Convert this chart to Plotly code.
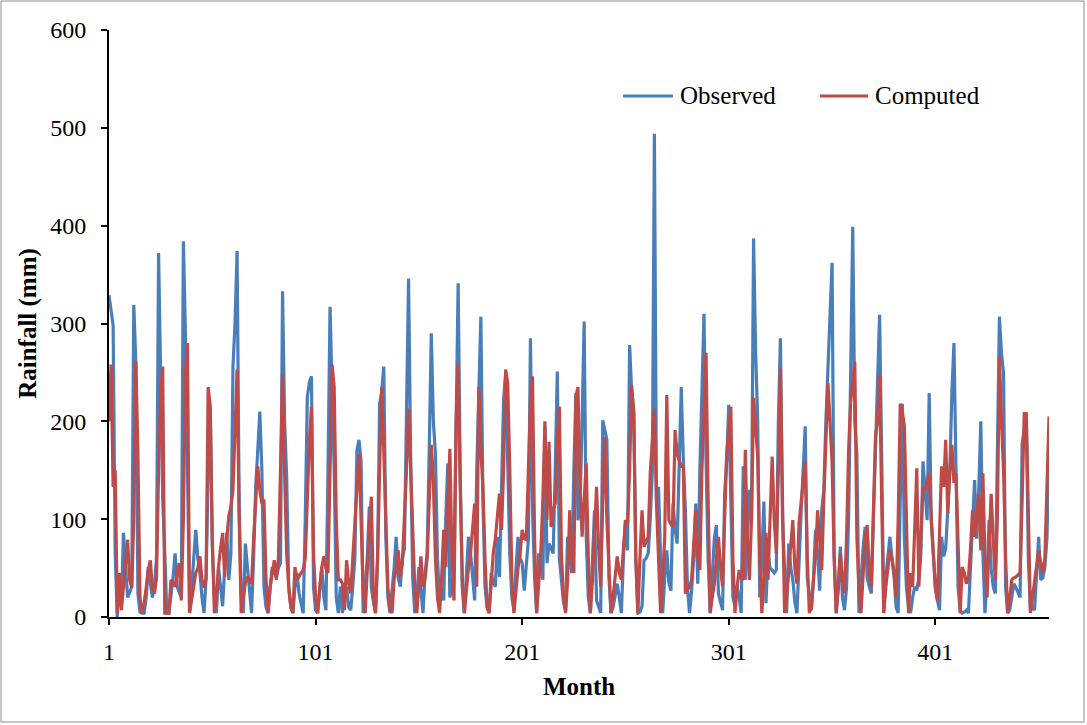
import plotly.graph_objects as go

# Monthly rainfall (mm), one row per year, 38 years
observed = [
    329, 310, 298, 65, 0, 40, 10, 86, 45, 20, 25, 31,
    319, 259, 24, 5, 4, 4, 20, 51, 35, 20, 31, 60,
    372, 256, 120, 65, 4, 4, 20, 40, 65, 31, 25, 20,
    384, 290, 150, 4, 30, 60, 89, 60, 45, 20, 4, 40,
    150, 212, 72, 20, 4, 51, 30, 11, 50, 86, 38, 65,
    256, 300, 374, 116, 20, 4, 75, 50, 31, 4, 60, 133,
    170, 210, 150, 31, 10, 4, 30, 51, 45, 41, 50, 55,
    333, 200, 143, 31, 10, 4, 30, 45, 24, 15, 4, 100,
    225, 240, 246, 30, 7, 4, 30, 51, 20, 7, 150, 317,
    230, 150, 20, 4, 31, 4, 20, 31, 10, 7, 31, 60,
    170, 181, 160, 4, 30, 60, 113, 30, 15, 4, 60, 218,
    230, 256, 82, 20, 4, 24, 50, 82, 40, 31, 60, 70,
    200, 346, 167, 40, 4, 20, 51, 30, 4, 45, 65, 170,
    290, 200, 167, 60, 17, 30, 17, 100, 157, 20, 30, 48,
    200, 341, 150, 30, 4, 40, 82, 65, 40, 17, 150, 230,
    307, 120, 31, 10, 4, 45, 35, 31, 82, 41, 150, 222,
    249, 150, 65, 20, 7, 50, 82, 60, 55, 27, 50, 79,
    285, 109, 40, 4, 65, 50, 38, 194, 55, 75, 70, 65,
    150, 251, 60, 38, 15, 7, 82, 60, 45, 150, 229, 99,
    113, 200, 302, 82, 20, 4, 60, 109, 17, 10, 4, 201,
    190, 181, 40, 4, 10, 20, 34, 20, 4, 60, 99, 68,
    278, 230, 212, 60, 4, 5, 11, 58, 60, 65, 100, 150,
    494, 120, 133, 60, 4, 40, 68, 35, 27, 116, 90, 75,
    150, 235, 160, 109, 30, 4, 27, 60, 116, 34, 150, 240,
    310, 160, 60, 4, 40, 80, 94, 24, 15, 7, 126, 160,
    217, 133, 20, 11, 31, 20, 4, 154, 38, 80, 130, 99,
    387, 270, 201, 20, 60, 118, 14, 65, 50, 48, 45, 48,
    200, 285, 100, 48, 4, 75, 50, 38, 15, 4, 60, 106,
    150, 195, 40, 20, 7, 40, 89, 65, 27, 109, 130, 200,
    254, 300, 362, 65, 4, 30, 72, 20, 7, 30, 100, 250,
    399, 200, 167, 4, 40, 70, 92, 40, 31, 24, 100, 178,
    260, 309, 167, 4, 40, 60, 82, 60, 41, 10, 4, 120,
    218, 82, 30, 10, 4, 20, 31, 27, 40, 65, 159, 130,
    99, 229, 100, 65, 30, 17, 7, 82, 62, 70, 116, 150,
    230, 280, 147, 30, 7, 4, 5, 7, 4, 60, 96, 140,
    80, 130, 200, 65, 4, 40, 99, 50, 31, 24, 150, 307,
    270, 249, 30, 4, 7, 20, 34, 30, 25, 20, 178, 190,
    208, 60, 7, 10, 7, 40, 82, 38, 40, 51, 80, 167,
]

computed = [
    200, 258, 133, 150, 4, 45, 7, 31, 60, 79, 38, 30,
    100, 261, 167, 20, 4, 14, 30, 48, 58, 30, 24, 40,
    150, 230, 256, 4, 4, 4, 38, 35, 31, 45, 55, 17,
    100, 250, 280, 4, 20, 31, 45, 50, 62, 38, 30, 40,
    235, 216, 80, 4, 20, 51, 70, 86, 41, 80, 103, 113,
    130, 200, 253, 100, 4, 20, 35, 41, 38, 34, 80, 120,
    154, 130, 116, 120, 40, 4, 30, 45, 58, 38, 60, 150,
    249, 147, 65, 30, 10, 4, 51, 38, 42, 45, 48, 60,
    120, 180, 215, 65, 20, 4, 30, 51, 62, 50, 45, 150,
    258, 235, 100, 38, 38, 34, 7, 58, 35, 24, 60, 100,
    140, 167, 100, 30, 4, 50, 90, 123, 20, 4, 60, 150,
    235, 171, 100, 30, 10, 4, 38, 50, 68, 41, 55, 100,
    150, 213, 150, 99, 30, 4, 30, 62, 31, 40, 60, 120,
    176, 140, 60, 20, 4, 40, 89, 51, 120, 172, 60, 17,
    200, 259, 133, 40, 4, 30, 50, 65, 90, 116, 31, 235,
    170, 133, 60, 10, 4, 30, 65, 80, 100, 126, 89, 150,
    253, 239, 150, 40, 4, 30, 50, 65, 89, 80, 79, 150,
    220, 246, 80, 4, 30, 65, 120, 200, 99, 179, 92, 110,
    116, 180, 215, 65, 20, 4, 38, 109, 60, 45, 225, 235,
    133, 82, 120, 157, 60, 4, 38, 90, 133, 70, 31, 120,
    184, 99, 40, 4, 20, 38, 62, 45, 38, 70, 99, 96,
    150, 237, 208, 60, 4, 60, 109, 72, 78, 82, 147, 180,
    213, 116, 50, 4, 40, 82, 227, 99, 95, 92, 191, 167,
    160, 154, 154, 24, 28, 31, 38, 70, 109, 60, 48, 150,
    220, 270, 120, 4, 20, 34, 60, 82, 50, 31, 100, 167,
    190, 215, 60, 4, 30, 48, 40, 38, 171, 80, 38, 100,
    224, 190, 164, 60, 4, 40, 86, 38, 100, 164, 100, 65,
    150, 254, 120, 4, 20, 48, 70, 99, 50, 34, 96, 120,
    140, 159, 60, 4, 10, 40, 65, 109, 80, 48, 120, 180,
    239, 200, 157, 60, 4, 30, 65, 40, 24, 80, 171, 220,
    240, 261, 82, 30, 4, 40, 80, 94, 45, 31, 100, 184,
    200, 247, 120, 4, 30, 50, 68, 60, 45, 20, 100, 218,
    210, 195, 80, 4, 45, 31, 90, 152, 31, 80, 133, 130,
    138, 147, 100, 65, 30, 17, 100, 154, 133, 181, 106, 150,
    176, 137, 147, 60, 4, 51, 45, 34, 40, 70, 109, 82,
    100, 126, 68, 147, 60, 20, 65, 126, 80, 38, 100, 266,
    200, 150, 60, 4, 20, 38, 40, 41, 43, 45, 120, 208,
    208, 100, 4, 20, 38, 50, 68, 55, 45, 60, 133, 205,
]

months = list(range(1, len(observed) + 1))
x_ticks = [1, 101, 201, 301, 401]
y_ticks = [0, 100, 200, 300, 400, 500, 600]
series_names = ["Observed", "Computed"]

BLUE = "#4A7EBB"
RED = "#BE4B48"
FONT = "Liberation Serif"

W, H = 1087, 725
L, R, T, B = 109, 38, 30, 108
pw, ph = W - L - R, H - T - B


def px_x(px):
    """Pixel column -> paper x."""
    return (px - L) / pw


def px_y(py):
    """Pixel row (from top) -> paper y."""
    return (H - B - py) / ph


fig = go.Figure()
fig.add_trace(go.Scatter(x=months, y=observed, mode="lines", name=series_names[0],
                         line=dict(color=BLUE, width=3.2), showlegend=False))
fig.add_trace(go.Scatter(x=months, y=computed, mode="lines", name=series_names[1],
                         line=dict(color=RED, width=3.2), showlegend=False))

fig.update_layout(
    width=W, height=H,
    margin=dict(l=L, r=R, t=T, b=B, autoexpand=False),
    paper_bgcolor="white", plot_bgcolor="white",
    font=dict(family=FONT, size=24, color="black"),
    showlegend=False,
    xaxis=dict(range=[1, len(months)], tickvals=x_ticks, ticktext=[str(v) for v in x_ticks],
               showgrid=False, zeroline=False, showline=True, linecolor="black", linewidth=2,
               ticks="outside", ticklen=6, tickwidth=2, tickcolor="black",
               ticklabelstandoff=6,
               tickfont=dict(family=FONT, size=24),
               title=dict(text="<b>Month</b>", font=dict(family=FONT, size=25), standoff=14)),
    yaxis=dict(range=[0, 600], tickvals=y_ticks, showgrid=False, zeroline=False,
               showline=True, linecolor="black", linewidth=2,
               ticks="outside", ticklen=6, tickwidth=2, tickcolor="black",
               ticklabelstandoff=10,
               tickfont=dict(family=FONT, size=24),
               title=dict(text="<b>Rainfall (mm)</b>", font=dict(family=FONT, size=25), standoff=6)),
)

# legend: line sample + label for each series
legend_items = [(series_names[0], BLUE, 623, 673), (series_names[1], RED, 820, 868)]
ly = px_y(96)
for name, color, x0, x1 in legend_items:
    fig.add_shape(type="line", xref="paper", yref="paper",
                  x0=px_x(x0), x1=px_x(x1), y0=ly, y1=ly,
                  line=dict(color=color, width=3.2))
    fig.add_annotation(xref="paper", yref="paper", x=px_x(x1 + 5), y=ly,
                       text=name, showarrow=False, xanchor="left", yanchor="middle",
                       font=dict(family=FONT, size=25, color="black"))

# thin grey frame around the whole chart area
fig.add_shape(type="rect", xref="paper", yref="paper",
              x0=px_x(1), x1=px_x(W - 3), y0=px_y(H - 3), y1=px_y(1),
              line=dict(color="#8C8C8C", width=1), fillcolor="rgba(0,0,0,0)", layer="below")

fig.write_html("out.html")
